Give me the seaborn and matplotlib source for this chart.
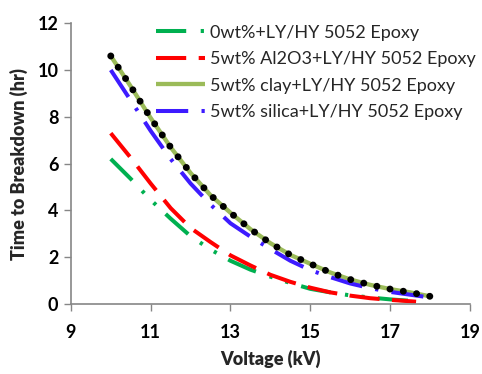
import numpy as np
import pandas as pd
import matplotlib
matplotlib.use("Agg")
import matplotlib.pyplot as plt
import seaborn as sns

# ---- data ----
v_base = [10, 10.5, 11, 11.5, 12, 12.5, 13, 13.5, 14, 14.5, 15, 15.5, 16, 16.5, 17, 17.5]
t_base = [6.2, 5.35, 4.45, 3.65, 2.9, 2.33, 1.85, 1.47, 1.17, 0.9, 0.65, 0.5, 0.37, 0.28, 0.2, 0.14]

v_al2o3 = [10, 10.5, 11, 11.5, 12, 12.5, 13, 13.5, 14, 14.5, 15, 15.5, 16, 16.5, 17, 17.5, 17.65]
t_al2o3 = [7.3, 6.25, 5.15, 4.1, 3.25, 2.65, 2.08, 1.65, 1.25, 0.95, 0.7, 0.5, 0.36, 0.25, 0.18, 0.12, 0.1]

v_clay = [10, 10.5, 11, 11.5, 12, 12.5, 13, 13.5, 14, 14.5, 15, 15.5, 16, 16.5, 17, 17.5, 18]
t_clay = [10.6, 9.3, 7.95, 6.7, 5.6, 4.65, 3.9, 3.2, 2.6, 2.1, 1.72, 1.35, 1.05, 0.82, 0.64, 0.5, 0.33]

v_silica = [10, 10.5, 11, 11.5, 12, 12.5, 13, 13.5, 14, 14.5, 15, 15.5, 16, 16.5, 17, 17.5, 18]
t_silica = [10.0, 8.7, 7.4, 6.2, 5.15, 4.25, 3.45, 2.88, 2.35, 1.85, 1.45, 1.15, 0.88, 0.68, 0.52, 0.4, 0.28]

labels = ["0wt%+LY/HY 5052 Epoxy",
          "5wt% Al2O3+LY/HY 5052 Epoxy",
          "5wt% clay+LY/HY 5052 Epoxy",
          "5wt% silica+LY/HY 5052 Epoxy"]

x_ticks = [9, 11, 13, 15, 17, 19]
y_ticks = [0, 2, 4, 6, 8, 10, 12]

sns.set_theme(style="white")
plt.rcParams['font.family'] = ['Lato', 'DejaVu Sans']

fig = plt.figure(figsize=(4.82, 3.74), dpi=100)
ax = fig.add_axes([0.147, 0.187, 0.828, 0.751])

def draw(x, y, color, lw, ls, label, cap='butt'):
    df = pd.DataFrame({"V": x, "T": y})
    sns.lineplot(data=df, x="V", y="T", ax=ax, color=color, linewidth=lw,
                 sort=False, label=label, estimator=None)
    line = ax.lines[-1]
    line.set_linestyle(ls)
    line.set_dash_capstyle(cap)
    line.set_solid_capstyle(cap)
    return line

draw(v_base, t_base, "#00B050", 2.9, (0, (7.5, 3.6, 0.8, 3.3, 0.8, 3.3)), labels[0])
draw(v_al2o3, t_al2o3, "#FF0000", 2.9, (0, (7.5, 3.1)), labels[1])
draw(v_clay, t_clay, "#9BBB59", 3.1, "-", labels[2])
draw(v_silica, t_silica, "#3D1BFF", 2.9, (0, (8, 3.3, 0.8, 3.3)), labels[3])
# black round dots over the clay curve
draw(v_clay, t_clay, "black", 5.0, (0, (0.01, 1.93)), "_nolegend_", cap='round')

ax.set_xlim(9, 19)
ax.set_ylim(0, 12)
ax.set_xticks(x_ticks)
ax.set_yticks(y_ticks)
ax.tick_params(axis='both', direction='out', length=5, width=1, color='#868686',
               labelsize=13, pad=4, bottom=True, left=True)
for lab in ax.get_xticklabels() + ax.get_yticklabels():
    lab.set_fontweight('bold')
    lab.set_color('black')
ax.xaxis.set_tick_params(pad=9)
for s in ['top', 'right']:
    ax.spines[s].set_visible(False)
for s in ['left', 'bottom']:
    ax.spines[s].set_color('#868686')
    ax.spines[s].set_linewidth(1.2)

ax.set_xlabel("Voltage (kV)", fontsize=13, fontweight='heavy', labelpad=7)
ax.set_ylabel("Time to Breakdown (hr)", fontsize=13, fontweight='heavy', labelpad=7)

handles, labs = ax.get_legend_handles_labels()
leg = ax.legend(handles[:4], labs[:4], loc='upper left', bbox_to_anchor=(0.195, 1.02),
                frameon=False, fontsize=13, handlelength=2.7, handletextpad=0.3,
                labelspacing=0.58, borderaxespad=0)

fig.savefig("out.png", dpi=100)
